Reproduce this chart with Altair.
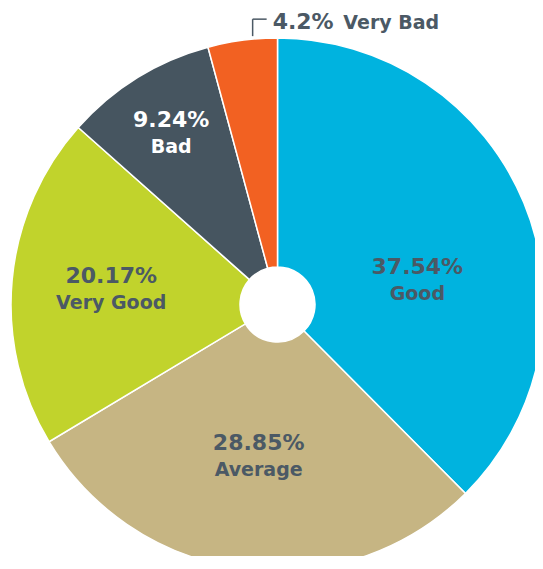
import math
import altair as alt
import pandas as pd

# ---- data ----
categories = ["Good", "Average", "Very Good", "Bad", "Very Bad"]
shares = [37.54, 28.85, 20.17, 9.24, 4.2]
share_labels = ["37.54%", "28.85%", "20.17%", "9.24%", "4.2%"]
colors = ["#00b3df", "#c6b583", "#c1d32c", "#465560", "#f26122"]

# ---- layout ----
W, H = 527, 548
CX, CY = 269.5, 296.5
R_OUT, R_IN = 266.5, 37.5
TEXT = "#4b5965"
FONT = "DejaVu Sans"

total = sum(shares)
rows = []
cum = 0.0
for i, (c, v, l) in enumerate(zip(categories, shares, share_labels)):
    start = cum / total * 2 * math.pi
    cum += v
    end = cum / total * 2 * math.pi
    rows.append(dict(cat=c, value=v, label=l, order=i, start=start, end=end,
                     mid=(start + end) / 2))
df = pd.DataFrame(rows)

label_radius = {"Good": 142, "Average": 153, "Very Good": 167, "Bad": 202}
label_shift = {"Good": math.radians(12.4)}
df["lr"] = df["cat"].map(label_radius)
df["la"] = df["mid"] + df["cat"].map(label_shift).fillna(0.0)
df["tc"] = ["#ffffff" if c == "Bad" else TEXT for c in df["cat"]]

inner = df[df["cat"] != "Very Bad"]
outer = df[df["cat"] == "Very Bad"].iloc[0]

arcs = alt.Chart(df).mark_arc(
    innerRadius=R_IN, outerRadius=R_OUT, stroke="white", strokeWidth=1.5
).encode(
    x=alt.value(CX), y=alt.value(CY),
    theta=alt.Theta("value:Q", stack=True),
    order=alt.Order("order:Q"),
    color=alt.Color("cat:N", scale=alt.Scale(domain=categories, range=colors), legend=None),
)

pct = alt.Chart(inner).mark_text(
    font=FONT, fontWeight="bold", fontSize=22, dy=-13, baseline="middle", align="center"
).encode(
    x=alt.value(CX), y=alt.value(CY),
    theta=alt.Theta("la:Q", scale=None),
    radius=alt.Radius("lr:Q", scale=None),
    text="label:N",
    color=alt.Color("tc:N", scale=None),
)

names = alt.Chart(inner).mark_text(
    font=FONT, fontWeight="bold", fontSize=19, dy=14, baseline="middle", align="center"
).encode(
    x=alt.value(CX), y=alt.value(CY),
    theta=alt.Theta("la:Q", scale=None),
    radius=alt.Radius("lr:Q", scale=None),
    text="cat:N",
    color=alt.Color("tc:N", scale=None),
)

# leader for the small slice
th = outer["start"] + 0.65 * (outer["end"] - outer["start"])
lx = CX + (R_OUT + 3) * math.sin(th)
ly = CY - (R_OUT + 3) * math.cos(th)
ty = ly - 17
hx = lx + 14
leader_df = pd.DataFrame([
    dict(x=lx, y=ly, x2=lx, y2=ty),
    dict(x=lx, y=ty, x2=hx, y2=ty),
])
leader = alt.Chart(leader_df).mark_rule(color=TEXT, strokeWidth=1.5).encode(
    x=alt.X("x:Q", scale=None), y=alt.Y("y:Q", scale=None),
    x2="x2:Q", y2="y2:Q",
)

vb_df = pd.DataFrame([dict(x=hx + 6, y=ty + 10, t=outer["label"])])
vb_pct = alt.Chart(vb_df).mark_text(
    font=FONT, fontWeight="bold", fontSize=22, align="left", baseline="alphabetic", color=TEXT
).encode(x=alt.X("x:Q", scale=None), y=alt.Y("y:Q", scale=None), text="t:N")

vbn_df = pd.DataFrame([dict(x=hx + 76.7, y=ty + 10, t=outer["cat"])])
vb_name = alt.Chart(vbn_df).mark_text(
    font=FONT, fontWeight="bold", fontSize=19, align="left", baseline="alphabetic", color=TEXT
).encode(x=alt.X("x:Q", scale=None), y=alt.Y("y:Q", scale=None), text="t:N")

chart = alt.layer(arcs, pct, names, leader, vb_pct, vb_name).properties(
    width=W, height=H, autosize="none", padding=0
).configure_view(strokeWidth=0)

chart.save("out.html", embed_options={"renderer": "svg", "actions": False})
